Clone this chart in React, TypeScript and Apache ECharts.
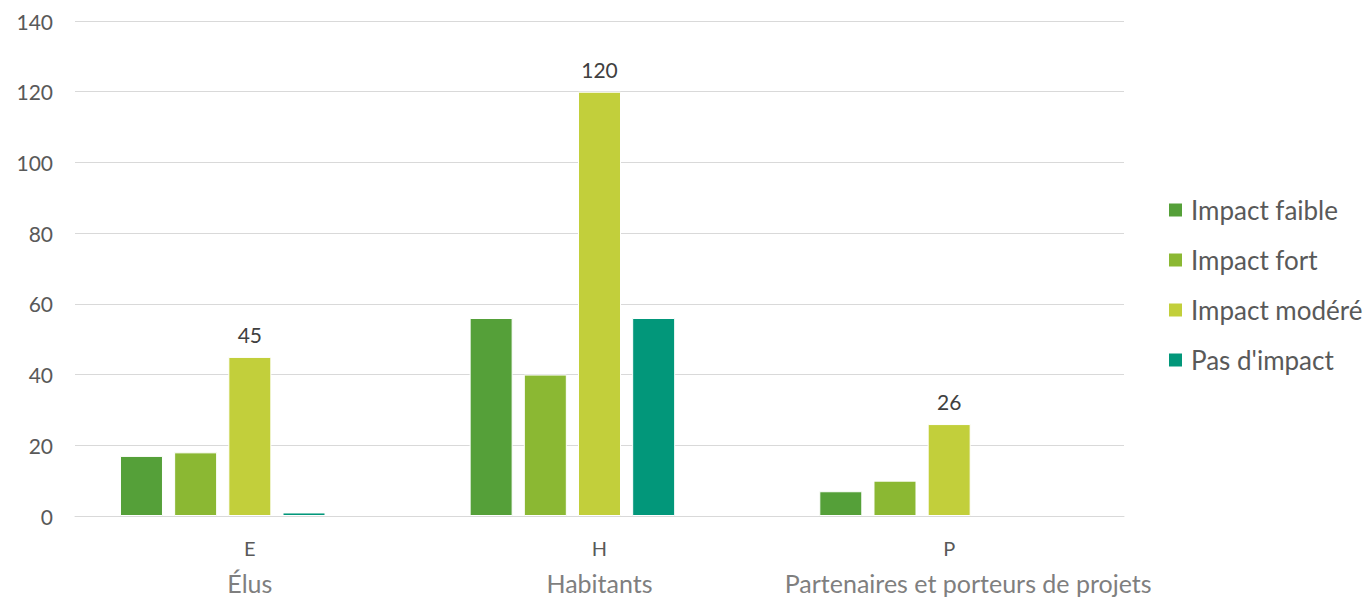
import React, { useEffect, useRef } from "react";
import * as echarts from "echarts";

const codes = ["E", "H", "P"];
const groups = ["Élus", "Habitants", "Partenaires et porteurs de projets"];
const seriesNames = ["Impact faible", "Impact fort", "Impact modéré", "Pas d'impact"];
const faible = [17, 56, 7];
const fort = [18, 40, 10];
const modere = [45, 120, 26];
const pasImpact = [1, 56, null];
const colors = ["#55a039", "#8bb833", "#c2cf3b", "#02977a"];
const yTicks = [0, 20, 40, 60, 80, 100, 120, 140];

const FONT = "Lato, 'Liberation Sans', sans-serif";

export default function App() {
  const ref = useRef<HTMLDivElement>(null);
  useEffect(() => {
    document.body.style.margin = "0";
    if (!ref.current) return;
    const chart = echarts.init(ref.current, null, { renderer: "svg" });
    const values = [faible, fort, modere, pasImpact];
    const series: any[] = values.map((d, i) => ({
      name: seriesNames[i],
      type: "bar",
      data: d,
      barWidth: 43,
      barGap: "26%",
      itemStyle: { color: colors[i], borderColor: "#ffffff", borderWidth: 1 },
      label:
        i === 2
          ? { show: true, position: "top", distance: 12, color: "#404040", fontSize: 21, fontFamily: FONT }
          : { show: false },
    }));
    series.push({ name: "_spacer", type: "bar", data: ["-", "-", "-"], barWidth: 43, barGap: "26%" });
    chart.setOption({
      animation: false,
      textStyle: { fontFamily: FONT },
      grid: { left: 75, right: 241, top: 21, bottom: 81, containLabel: false },
      legend: {
        data: seriesNames,
        orient: "vertical",
        left: 1167,
        top: 197,
        padding: 0,
        itemWidth: 15,
        itemHeight: 15,
        itemGap: 24,
        icon: "rect",
        textStyle: { color: "#595959", fontSize: 26, fontFamily: FONT, lineHeight: 25, padding: [0, 0, 0, 3] },
      },
      xAxis: [
        {
          type: "category",
          data: codes,
          axisLine: { lineStyle: { color: "#d9d9d9", width: 1 } },
          axisTick: { show: false },
          axisLabel: { color: "#595959", fontSize: 20, margin: 22, fontFamily: FONT },
        },
        {
          type: "category",
          data: groups,
          position: "bottom",
          offset: 46,
          axisLine: { show: false },
          axisTick: { show: false },
          axisLabel: {
            color: "#7f7f7f",
            fontSize: 25,
            lineHeight: 26,
            fontFamily: FONT,
            interval: 0,
            formatter: (v: string, idx: number) => (idx === 2 ? "{p|" + v + "}" : v),
            rich: {
              p: { padding: [0, 0, 0, 38], fontSize: 25, lineHeight: 26, color: "#7f7f7f", fontFamily: FONT },
            },
          },
        },
      ],
      yAxis: {
        type: "value",
        min: yTicks[0],
        max: yTicks[yTicks.length - 1],
        interval: 20,
        axisLine: { show: false },
        axisTick: { show: false },
        splitLine: { lineStyle: { color: "#d9d9d9", width: 1 } },
        axisLabel: { color: "#595959", fontSize: 21, margin: 22, fontFamily: FONT },
      },
      series,
    });
    return () => chart.dispose();
  }, []);
  return <div ref={ref} style={{ width: 1365, height: 597 }} />;
}
